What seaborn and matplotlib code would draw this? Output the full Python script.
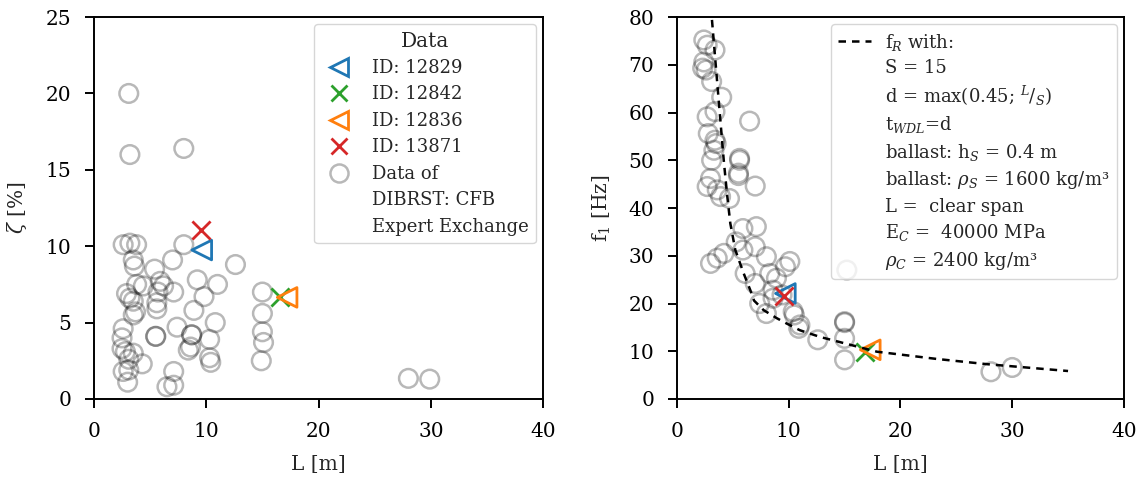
import matplotlib
matplotlib.use("Agg")
import matplotlib.pyplot as plt
import seaborn as sns
from matplotlib.lines import Line2D

sns.set_style("ticks")
plt.rcParams["font.family"] = ["DejaVu Serif"]
plt.rcParams["mathtext.fontset"] = "dejavuserif"
plt.rcParams["font.size"] = 14.5
plt.rcParams["axes.edgecolor"] = "black"
plt.rcParams["axes.linewidth"] = 1.4
for a in ("xtick", "ytick"):
    plt.rcParams[a + ".color"] = "black"
    plt.rcParams[a + ".major.size"] = 6.5
    plt.rcParams[a + ".major.width"] = 1.4
    plt.rcParams[a + ".major.pad"] = 10
    plt.rcParams[a + ".labelsize"] = 14.5

# --- damping data (DIBRST: CFB Expert Exchange) ---
L_damp = [3.1, 3.2, 8.0, 2.6, 3.2, 3.8, 8.0, 3.5, 3.6, 7.0, 12.6, 5.4, 9.2, 11.0,
          3.8, 4.4, 5.9, 6.2, 7.1, 5.7, 2.9, 9.8, 15.0, 3.2, 3.5, 5.6, 8.9, 5.6,
          3.7, 3.5, 15.0, 10.8, 7.4, 2.6, 5.5, 5.5, 8.7, 8.7, 15.0, 15.1, 10.3,
          2.5, 2.5, 2.8, 3.5, 8.6, 8.4, 10.3, 10.4, 4.3, 3.1, 14.9, 2.6, 3.1,
          7.1, 3.0, 6.5, 7.1, 28.0, 29.9]
zeta = [20.0, 16.0, 16.4, 10.1, 10.2, 10.1, 10.1, 9.1, 8.7, 9.1, 8.8, 8.5, 7.8, 7.5,
        7.5, 7.4, 7.7, 7.4, 7.0, 7.0, 6.9, 6.7, 7.0, 6.6, 6.4, 6.3, 5.8, 5.9,
        5.7, 5.5, 5.6, 5.0, 4.7, 4.6, 4.1, 4.1, 4.2, 4.2, 4.4, 3.7, 3.9,
        4.0, 3.3, 3.1, 3.0, 3.4, 3.2, 2.7, 2.4, 2.3, 2.6, 2.5, 1.8, 1.9,
        1.8, 1.1, 0.8, 0.9, 1.35, 1.3]

# --- frequency data ---
L_freq = [2.4, 2.7, 3.4, 2.4, 2.3, 2.6, 3.1, 4.0, 2.7, 3.4, 6.5, 2.8, 3.4, 3.5,
          3.3, 5.6, 5.6, 5.5, 5.5, 3.1, 3.0, 2.7, 3.6, 3.9, 4.7, 7.0, 5.9, 7.1,
          5.3, 4.2, 3.0, 3.6, 5.9, 7.0, 8.0, 10.1, 9.7, 15.2, 6.1, 8.3, 8.9,
          7.0, 8.6, 9.4, 8.6, 7.4, 8.0, 10.4, 10.5, 11.0, 10.9, 12.6, 15.0,
          15.0, 15.0, 15.0, 28.1, 30.0]
f1 = [75.2, 74.1, 73.1, 70.6, 69.3, 68.9, 66.5, 63.2, 59.1, 60.2, 58.2, 55.6, 54.2,
      53.5, 52.1, 50.4, 50.0, 47.3, 46.8, 50.0, 46.2, 44.5, 43.8, 42.4, 42.0,
      44.6, 35.7, 36.1, 32.9, 30.5, 28.4, 29.5, 31.2, 31.9, 29.8, 28.8, 27.7,
      27.0, 26.3, 26.3, 25.3, 24.2, 22.8, 21.8, 21.1, 20.0, 17.9, 18.3, 17.6,
      15.5, 14.8, 12.4, 16.2, 16.0, 12.7, 8.2, 5.7, 6.6]

# --- highlighted bridges ---
ids = ["ID: 12829", "ID: 12842", "ID: 12836", "ID: 13871"]
id_colors = ["tab:blue", "tab:green", "tab:orange", "tab:red"]
id_markers = ["<", "x", "<", "x"]
id_L_damp = [9.6, 16.6, 17.2, 9.55]
id_zeta = [9.75, 6.7, 6.65, 11.05]
id_L_freq = [9.7, 16.8, 17.3, 9.55]
id_f1 = [22.1, 9.9, 10.3, 21.5]

# --- f_R curve ---
L_curve = [3.13, 3.43, 3.73, 4.18, 4.47, 4.77, 5.22, 5.97, 6.56, 6.9, 7.76, 8.95,
           9.82, 11.0, 12.8, 17.9, 23.2, 27.7, 35.0]
f_curve = [79.4, 71.0, 62.6, 50.1, 43.1, 36.8, 31.2, 26.3, 22.8, 20.6, 18.6, 16.9,
           15.8, 14.4, 13.0, 9.9, 8.4, 7.3, 5.86]

data_lines = ["Data of", "DIBRST: CFB", "Expert Exchange"]
curve_lines = ["f$_R$ with:", "S = 15", "d = max(0.45; $^L/_S$)", "t$_{WDL}$=d",
               "ballast: h$_S$ = 0.4 m", "ballast: $\\rho_S$ = 1600 kg/m³",
               "L =  clear span", "E$_C$ =  40000 MPa", "$\\rho_C$ = 2400 kg/m³"]

fig = plt.figure(figsize=(11.43, 4.78), dpi=100)
ax1 = fig.add_axes([0.0822, 0.1653, 0.393, 0.799])
ax2 = fig.add_axes([0.5923, 0.1653, 0.391, 0.799])


def draw(ax, xs, ys, id_x, id_y):
    sns.scatterplot(x=xs, y=ys, ax=ax, marker="o", s=180, facecolor="none",
                    edgecolor="black", linewidth=1.8, alpha=0.28, zorder=2)
    for c, m, x, y in zip(id_colors, id_markers, id_x, id_y):
        if m == "x":
            sns.scatterplot(x=[x], y=[y], ax=ax, marker="x", s=170, color=c,
                            linewidth=2, zorder=3)
        else:
            sns.scatterplot(x=[x], y=[y], ax=ax, marker="<", s=200,
                            facecolor="none", edgecolor=c, linewidth=2, zorder=3)


draw(ax1, L_damp, zeta, id_L_damp, id_zeta)
draw(ax2, L_freq, f1, id_L_freq, id_f1)

dash = (0, (3.0, 2.4))
sns.lineplot(x=L_curve, y=f_curve, ax=ax2, color="black", linewidth=1.8,
             sort=False, zorder=4, linestyle=dash)

ax1.set_xlim(0, 40)
ax1.set_ylim(0, 25)
ax1.set_xticks([0, 10, 20, 30, 40])
ax1.set_yticks([0, 5, 10, 15, 20, 25])
ax1.set_xlabel("L [m]", labelpad=10)
ax1.set_ylabel(r"$\zeta$ [%]", labelpad=12)

ax2.set_xlim(0, 40)
ax2.set_ylim(0, 80)
ax2.set_xticks([0, 10, 20, 30, 40])
ax2.set_yticks([0, 10, 20, 30, 40, 50, 60, 70, 80])
ax2.set_xlabel("L [m]", labelpad=10)
ax2.set_ylabel(r"f$_1$ [Hz]", labelpad=11)

blank = Line2D([], [], ls="none", marker="none")

# legend left
id_handles = []
for c, m in zip(id_colors, id_markers):
    if m == "x":
        id_handles.append(Line2D([], [], ls="none", marker="x", color=c,
                                 markersize=12, markeredgewidth=2))
    else:
        id_handles.append(Line2D([], [], ls="none", marker="<", color=c,
                                 markerfacecolor="none", markersize=13,
                                 markeredgewidth=2))
circ = Line2D([], [], ls="none", marker="o", markerfacecolor="none",
              markeredgecolor="black", alpha=0.28, markersize=13,
              markeredgewidth=1.8)
ax1.legend(id_handles + [circ, blank, blank], ids + data_lines, title="Data",
           loc="upper right", fontsize=13, title_fontsize=14.5,
           labelspacing=0.47, borderaxespad=0.4)

# legend right
line_h = Line2D([], [], color="black", linewidth=1.8, linestyle=dash)
ax2.legend([line_h] + [blank] * (len(curve_lines) - 1), curve_lines,
           loc="upper right", fontsize=13, labelspacing=0.36, borderaxespad=0.4,
           handlelength=1.8)

fig.savefig("out.png", dpi=100)
